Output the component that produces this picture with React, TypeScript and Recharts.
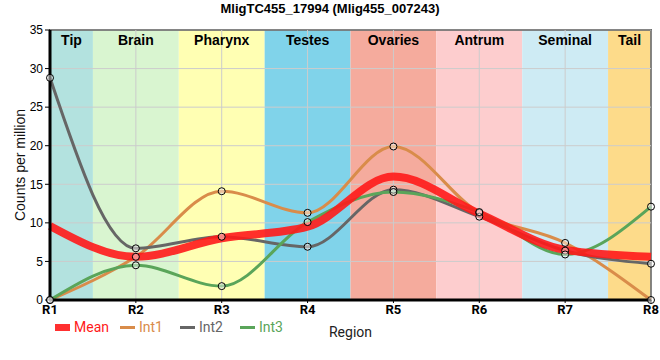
import {
  LineChart,
  Line,
  XAxis,
  YAxis,
  ReferenceArea,
  ReferenceLine,
} from "recharts";

const regions = ["R1", "R2", "R3", "R4", "R5", "R6", "R7", "R8"];
const tissues = ["Tip", "Brain", "Pharynx", "Testes", "Ovaries", "Antrum", "Seminal", "Tail"];
const tissueColors = ["#b3e2df", "#d9f5d0", "#ffffb3", "#80d3ea", "#f5ab9d", "#fdcdce", "#ceebf4", "#fddb8a"];

const meanValues = [9.6, 5.6, 8.0, 9.5, 16.0, 11.2, 6.5, 5.6];
const int1Values = [0, 5.6, 14.1, 11.3, 19.9, 11.3, 7.4, 0];
const int2Values = [28.8, 6.7, 8.2, 6.9, 14.3, 10.8, 6.4, 4.7];
const int3Values = [0, 4.5, 1.8, 10.1, 14.0, 11.4, 5.9, 12.1];

const yTicks = [0, 5, 10, 15, 20, 25, 30, 35];

const series = [
  { key: "mean", name: "Mean", color: "#ff1a1a" },
  { key: "int1", name: "Int1", color: "#d98c4a" },
  { key: "int2", name: "Int2", color: "#666666" },
  { key: "int3", name: "Int3", color: "#5aa55a" },
];

const data = regions.map((r, i) => ({
  x: i + 1,
  region: r,
  mean: meanValues[i],
  int1: int1Values[i],
  int2: int2Values[i],
  int3: int3Values[i],
}));

const dotStyle = { r: 3.5, fill: "rgba(255,255,255,0.45)", stroke: "#000", strokeWidth: 1, strokeOpacity: 1 };

function LegendRow() {
  const widths = [65, 60, 60, 60];
  return (
    <div
      style={{
        position: "absolute",
        left: 55,
        top: 318,
        display: "flex",
        fontFamily: "Roboto, sans-serif",
        fontSize: 14,
        lineHeight: "18px",
      }}
    >
      {series.map((s, i) => (
        <div key={s.name} style={{ display: "flex", alignItems: "center", width: widths[i] }}>
          <span
            style={{
              display: "inline-block",
              width: 15,
              height: i === 0 ? 7 : 3,
              background: s.color,
              opacity: i === 0 ? 0.9 : 1,
              marginRight: 4,
            }}
          />
          <span style={{ color: s.color }}>{s.name}</span>
        </div>
      ))}
    </div>
  );
}

export default function App() {
  const font = "'Liberation Sans', Arial, sans-serif";
  return (
    <div style={{ position: "absolute", left: 0, top: 0, width: 660, height: 360, background: "#fff" }}>
      <div
        style={{
          position: "absolute",
          top: 0,
          left: 0,
          width: 660,
          textAlign: "center",
          fontFamily: font,
          fontWeight: "bold",
          fontSize: 13,
          lineHeight: "18px",
        }}
      >
        MligTC455_17994 (Mlig455_007243)
      </div>
      <LineChart width={660} height={360} data={data} margin={{ top: 30, right: 9, bottom: 0, left: 0 }}>
        <XAxis
          dataKey="x"
          type="number"
          domain={[1, 8]}
          ticks={[1, 2, 3, 4, 5, 6, 7, 8]}
          tickFormatter={(v) => regions[v - 1]}
          height={60}
          tickSize={3}
          axisLine={{ stroke: "#000", strokeWidth: 3 }}
          tickLine={{ stroke: "#000" }}
          tick={{ fill: "#000", fontSize: 13, fontWeight: "bold", fontFamily: "Roboto, sans-serif" }}
          label={{ value: "Region", position: "insideBottom", offset: 23, fill: "#222", fontSize: 14, fontFamily: "Roboto, sans-serif" }}
        />
        <YAxis
          type="number"
          domain={[0, 35]}
          ticks={yTicks}
          width={50}
          tickSize={5}
          axisLine={{ stroke: "#000", strokeWidth: 3 }}
          tickLine={{ stroke: "#000" }}
          tick={{ fill: "#000", fontSize: 12, fontFamily: font }}
          label={{ value: "Counts per million", angle: -90, position: "center", dx: -5, fill: "#111", fontSize: 14, fontFamily: font }}
        />
        {tissues.map((t, i) => (
          <ReferenceArea
            key={t}
            x1={Math.max(1, i + 0.5)}
            x2={Math.min(8, i + 1.5)}
            y1={0}
            y2={35}
            fill={tissueColors[i]}
            fillOpacity={1}
            stroke="none"
            label={{ value: t, position: "insideTop", offset: 5, fill: "#000", fontSize: 14, fontWeight: "bold", fontFamily: font }}
          />
        ))}
        {yTicks.slice(1).map((v) => (
          <ReferenceLine key={"h" + v} y={v} stroke="#cccccc" strokeWidth={1} />
        ))}
        {regions.map((r, i) => (
          <ReferenceLine key={"v" + r} x={i + 1} stroke="#cccccc" strokeWidth={1} />
        ))}
        <ReferenceArea x1={1} x2={8} y1={0} y2={35} fill="none" stroke="#000" strokeWidth={1.5} />
        {series.slice(1).map((s) => (
          <Line key={s.key} dataKey={s.key} name={s.name} type="monotone" stroke={s.color} strokeWidth={3} dot={false} activeDot={false} isAnimationActive={false} />
        ))}
        <Line dataKey="mean" name="Mean" type="monotone" stroke="#ff1a1a" strokeOpacity={0.9} strokeWidth={8} dot={false} activeDot={false} isAnimationActive={false} />
        {series.slice(1).map((s) => (
          <Line key={s.key + "-dots"} dataKey={s.key} name={s.name} type="monotone" stroke="transparent" dot={dotStyle} activeDot={false} isAnimationActive={false} />
        ))}
      </LineChart>
      <LegendRow />
    </div>
  );
}
